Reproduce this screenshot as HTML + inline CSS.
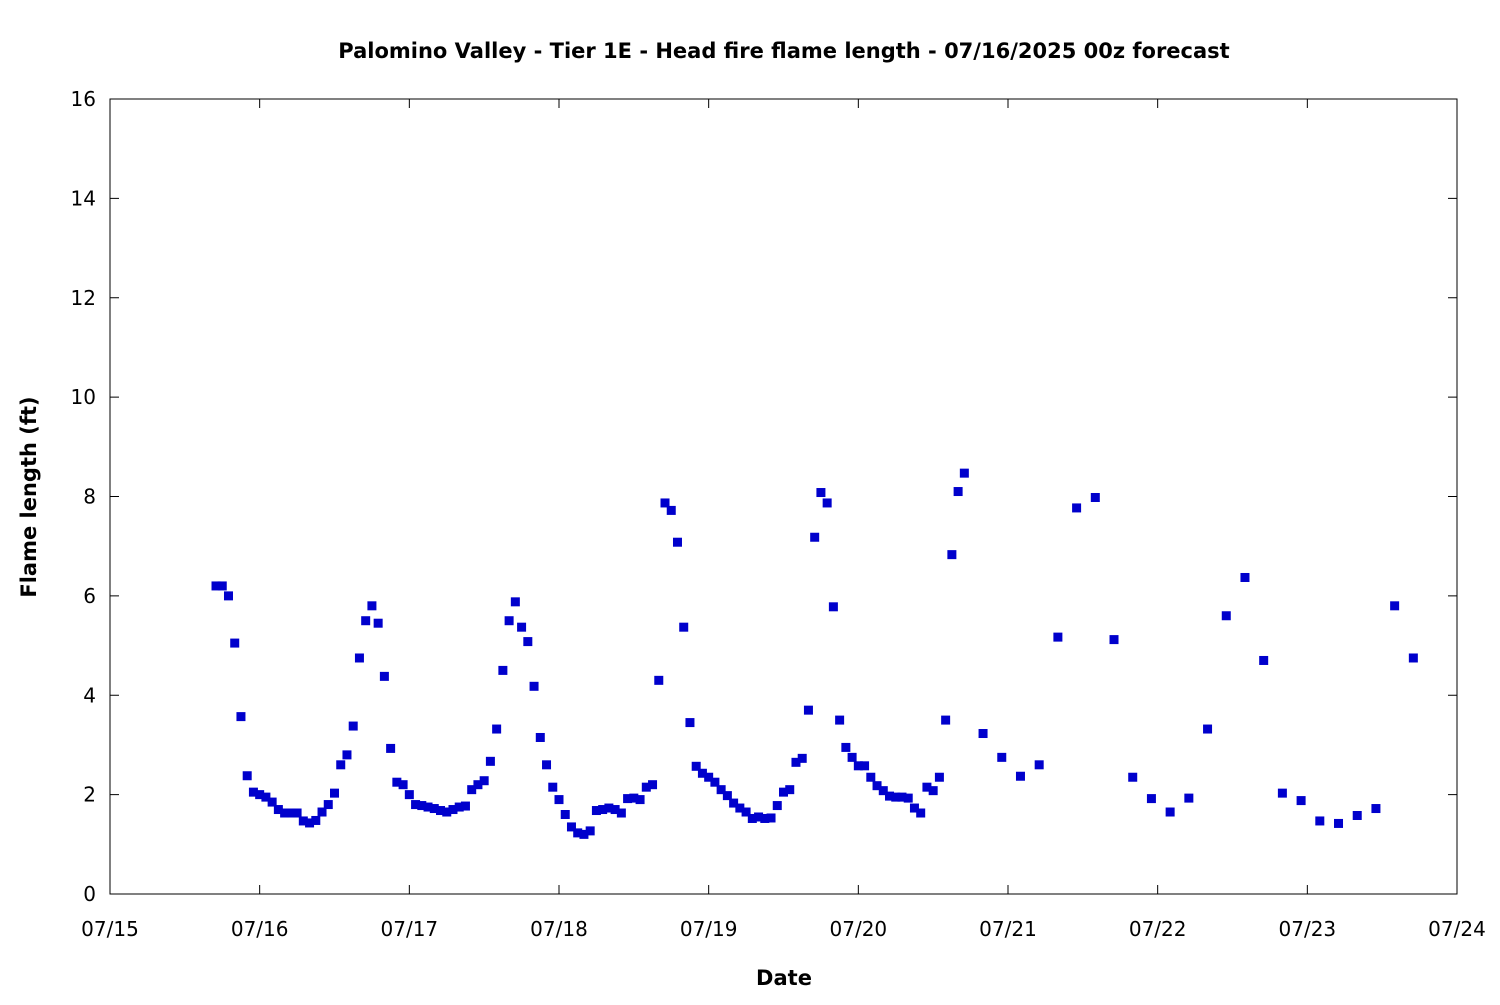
<!DOCTYPE html>
<html><head><meta charset="utf-8"><style>
body{margin:0;background:#fff}
svg text{font-family:"DejaVu Sans","Liberation Sans",sans-serif;fill:#000}
</style></head><body>
<svg id="chart" width="1500" height="1000" xmlns="http://www.w3.org/2000/svg">
<rect width="1500" height="1000" fill="#fff"/>
<text x="784" y="58" text-anchor="middle" font-size="21" font-weight="bold">Palomino Valley - Tier 1E - Head fire flame length - 07/16/2025 00z forecast</text>
<text x="784" y="985" text-anchor="middle" font-size="21" font-weight="bold">Date</text>
<text transform="translate(36,497) rotate(-90)" text-anchor="middle" font-size="21" font-weight="bold">Flame length (ft)</text>
<g id="axes"></g><g id="marks"></g>
<rect x="110" y="99" width="1347" height="795" fill="none" stroke="#000" stroke-width="1"/>
</svg>
<script>
const hours=[17,18,19,20,21,22,23,24,25,26,27,28,29,30,31,32,33,34,35,36,37,38,39,40,41,42,43,44,45,46,47,48,49,50,51,52,53,54,55,56,57,58,59,60,61,62,63,64,65,66,67,68,69,70,71,72,73,74,75,76,77,78,79,80,81,82,83,84,85,86,87,88,89,90,91,92,93,94,95,96,97,98,99,100,101,102,103,104,105,106,107,108,109,110,111,112,113,114,115,116,117,118,119,120,121,122,123,124,125,126,127,128,129,130,131,132,133,134,135,136,137,140,143,146,149,152,155,158,161,164,167,170,173,176,179,182,185,188,191,194,197,200,203,206,209];
const values=[6.2,6.2,6.0,5.05,3.57,2.38,2.05,2.0,1.95,1.85,1.7,1.63,1.63,1.63,1.47,1.43,1.48,1.65,1.8,2.03,2.6,2.8,3.38,4.75,5.5,5.8,5.45,4.38,2.93,2.25,2.2,2.0,1.8,1.78,1.75,1.72,1.68,1.65,1.7,1.75,1.77,2.1,2.2,2.28,2.67,3.32,4.5,5.5,5.88,5.37,5.08,4.18,3.15,2.6,2.15,1.9,1.6,1.35,1.23,1.2,1.27,1.68,1.7,1.73,1.7,1.63,1.92,1.93,1.9,2.15,2.2,4.3,7.87,7.72,7.08,5.37,3.45,2.57,2.43,2.35,2.25,2.1,1.98,1.83,1.73,1.65,1.52,1.55,1.52,1.53,1.78,2.05,2.1,2.65,2.73,3.7,7.18,8.08,7.87,5.78,3.5,2.95,2.75,2.58,2.58,2.35,2.18,2.08,1.97,1.95,1.95,1.93,1.73,1.63,2.15,2.08,2.35,3.5,6.83,8.1,8.47,3.23,2.75,2.37,2.6,5.17,7.77,7.98,5.12,2.35,1.92,1.65,1.93,3.32,5.6,6.37,4.7,2.03,1.88,1.47,1.42,1.58,1.72,5.8,4.75];
const xTickLabels=["07/15","07/16","07/17","07/18","07/19","07/20","07/21","07/22","07/23","07/24"];
const yTickLabels=[0,2,4,6,8,10,12,14,16];
const X0=110,X1=1457,Y0=894,Y1=99;
const xScale=h=>X0+(X1-X0)*h/216;
const yScale=v=>Y0-(Y0-Y1)*v/16;
const NS="http://www.w3.org/2000/svg";
const axes=document.getElementById('axes'),marks=document.getElementById('marks');
function mk(tag,attrs,parent){const e=document.createElementNS(NS,tag);for(const k in attrs)e.setAttribute(k,attrs[k]);parent.appendChild(e);return e;}
xTickLabels.forEach((l,i)=>{const x=xScale(i*24);
 const t1=mk('line',{x1:x,x2:x,y1:Y0,y2:Y0-9,stroke:'#000'},axes);
 
 
 const t2=mk('line',{x1:x,x2:x,y1:Y1,y2:Y1+9,stroke:'#000'},axes);
 
 
 const tx=mk('text',{x:x,y:Y0+42,'text-anchor':'middle','font-size':'20'},axes);tx.textContent=l;
 
 
});
yTickLabels.forEach(v=>{const y=yScale(v);
 const t1=mk('line',{x1:X0,x2:X0+9,y1:y,y2:y,stroke:'#000'},axes);
 
 
 const t2=mk('line',{x1:X1,x2:X1-9,y1:y,y2:y,stroke:'#000'},axes);
 
 
 const tx=mk('text',{x:X0-14,y:y+7,'text-anchor':'end','font-size':'20'},axes);tx.textContent=v;
 
 
});
hours.forEach((h,i)=>{
 const r=mk('rect',{x:xScale(h)-4.5,y:yScale(values[i])-4.5,width:9,height:9,fill:'#0000cc'},marks);
 
 
});
</script>
</body></html>
